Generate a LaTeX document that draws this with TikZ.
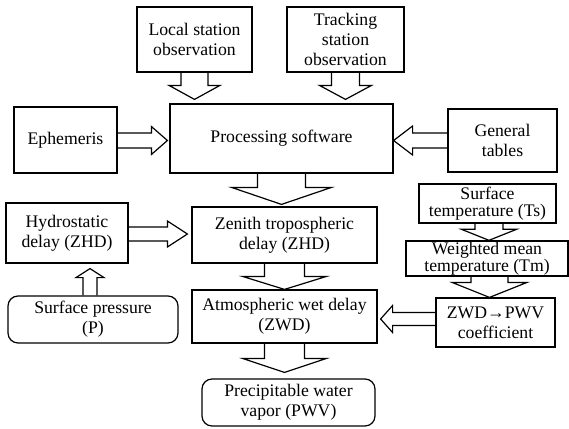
\documentclass[tikz,border=0pt]{standalone}
\usepackage{fontspec}
\setmainfont{Liberation Serif}
\newfontfamily\tnr{Liberation Serif}
\usetikzlibrary{calc}
\tikzset{
  box/.style={draw, line width=1.2pt, align=center, inner sep=1pt,
    font=\tnr\fontsize{17.7}{20}\selectfont},
  rbox/.style={box, rounded corners=10pt},
  blk/.style={draw, line width=1.2pt, line join=miter}
}
\newcommand\barrow[5]{%
  \path #1 coordinate (bs) #2 coordinate (be);
  \path ($(be)!#5pt!(bs)$) coordinate (bh);
  \draw[blk] ($(bs)!#3pt!90:(be)$) -- ($(bh)!#3pt!-90:(bs)$) -- ($(bh)!#4pt!-90:(bs)$)
    -- (be) -- ($(bh)!#4pt!90:(bs)$) -- ($(bh)!#3pt!90:(bs)$) -- ($(bs)!#3pt!-90:(be)$);
}
\begin{document}
\begin{tikzpicture}[x=1pt,y=-1pt]
\useasboundingbox (0,0) rectangle (569,428);
\node[box, minimum width=115pt, minimum height=65pt] (local) at (194.5,39.5) {Local station\\observation};
\node[box, minimum width=117pt, minimum height=65pt] (track) at (345.5,39.5) {Tracking\\station\\observation};
\node[box, minimum width=223pt, minimum height=69pt] (proc) at (281.5,138.5) {Processing software};
\node[box, minimum width=103pt, minimum height=66pt] (ephem) at (65.5,140) {Ephemeris};
\node[box, minimum width=109pt, minimum height=63pt] (gen) at (502.5,140.5) {General\\tables};
\node[box, minimum width=137pt, minimum height=39pt, font=\tnr\fontsize{17.7}{17}\selectfont] (stemp) at (487.5,203.5) {Surface\\temperature (Ts)};
\node[box, minimum width=162pt, minimum height=31pt, font=\tnr\fontsize{17.7}{15}\selectfont] (wmt) at (487,258.5) {Weighted mean\\temperature (Tm)};
\node[box, minimum width=119pt, minimum height=49pt] (coef) at (495.5,322.5) {ZWD→PWV\\coefficient};
\node[box, minimum width=122pt, minimum height=60pt] (hydro) at (67,233) {Hydrostatic\\delay (ZHD)};
\node[box, minimum width=185pt, minimum height=56pt] (zen) at (284.5,235) {Zenith tropospheric\\delay (ZHD)};
\node[box, minimum width=185pt, minimum height=53pt] (atm) at (284.5,316.5) {Atmospheric wet delay\\(ZWD)};
\node[rbox, minimum width=170pt, minimum height=47pt] (spress) at (93,319.5) {Surface pressure\\(P)};
\node[rbox, minimum width=173pt, minimum height=47pt] (pwv) at (288.5,402.5) {Precipitable water\\vapor (PWV)};
% block arrows
\barrow{(local.south)}{($(local.south|-proc.north)+(0,-4)$)}{13.5}{25.5}{14}
\barrow{(track.south)}{($(track.south|-proc.north)+(0,-4)$)}{14}{26}{14}
\barrow{(proc.south)}{($(proc.south|-zen.north)+(0,-2)$)}{24}{50}{17}
\barrow{(zen.south)}{(atm.north)}{20}{42}{13}
\barrow{(atm.south)}{($(atm.south|-pwv.north)+(0,-6)$)}{20}{42}{14}
\barrow{($(ephem.east)+(0,0.5)$)}{($(proc.west|-ephem.east)+(-2,0.5)$)}{7.5}{14}{16}
\barrow{(gen.west)}{(proc.east|-gen.west)}{7.5}{14.5}{19}
\barrow{($(hydro.east)+(0,1)$)}{($(zen.west|-hydro.east)+(-4,1)$)}{7}{13}{20}
\barrow{($(spress.north)+(-3,0)$)}{($(spress.north|-hydro.south)+(-3,5)$)}{7}{14}{9}
\barrow{($(stemp.south)+(1.5,0)$)}{($(stemp.south|-wmt.north)+(1.5,0)$)}{14}{27.5}{11}
\barrow{($(wmt.south)+(2.5,0)$)}{($(wmt.south|-coef.north)+(2.5,0)$)}{18.5}{37.5}{15}
\barrow{($(coef.west)+(0,-3.5)$)}{($(atm.east|-coef.west)+(3,-3.5)$)}{6.5}{13.5}{12}
\end{tikzpicture}
\end{document}
